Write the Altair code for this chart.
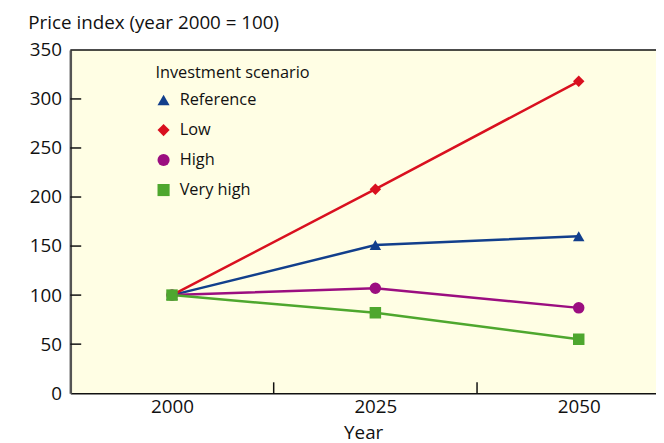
import altair as alt
import pandas as pd

years = [2000, 2025, 2050]
scenarios = ["Reference", "Low", "High", "Very high"]
reference = [100, 151, 160]
low = [100, 208, 318]
high = [100, 107, 87]
very_high = [100, 82, 55]
colors = ["#123f8c", "#d9101f", "#9b0e80", "#4ea72e"]
shapes = ["triangle-up", "diamond", "circle", "square"]
y_ticks = [0, 50, 100, 150, 200, 250, 300, 350]
x_minor = [2012.5, 2037.5]

rows = []
for name, vals in zip(scenarios, [reference, low, high, very_high]):
    for yr, v in zip(years, vals):
        rows.append({"Year": yr, "Value": v, "Scenario": name})
df = pd.DataFrame(rows)

W, H = 592, 347
FONT = "Open Sans"

xs = alt.Scale(domain=[1987.5, 2059.5], nice=False, zero=False)
ys = alt.Scale(domain=[0, 350], nice=False)

legend = alt.Legend(orient="none", legendX=86, legendY=15,
                    title="Investment scenario",
                    titleFontSize=16.5, titleFont=FONT,
                    titleFontWeight="normal", titleColor="#111",
                    titlePadding=11, labelFontSize=16.5,
                    labelFont=FONT, labelColor="#111",
                    rowPadding=13.3, symbolSize=150,
                    symbolStrokeWidth=0, labelOffset=8,
                    padding=0)

color = alt.Color("Scenario:N", scale=alt.Scale(domain=scenarios, range=colors),
                  legend=legend)
shape = alt.Shape("Scenario:N", scale=alt.Scale(domain=scenarios, range=shapes),
                  legend=legend)

base = alt.Chart(df)

lines = base.mark_line(strokeWidth=2.5).encode(
    x=alt.X("Year:Q", scale=xs,
            axis=alt.Axis(values=years, format="d", ticks=False, grid=False,
                          labelFontSize=19, labelFont=FONT, labelColor="#111",
                          labelPadding=5, domainColor="#111", domainWidth=1.5,
                          title="Year", titleFontSize=19, titleFont=FONT,
                          titleFontWeight="normal", titleColor="#111",
                          titlePadding=7)),
    y=alt.Y("Value:Q", scale=ys,
            axis=alt.Axis(values=y_ticks, ticks=False, grid=False,
                          labelFontSize=19, labelFont=FONT, labelColor="#111",
                          labelPadding=9, domainColor="#555", domainWidth=2.5,
                          title="Price index (year 2000 = 100)", titleAngle=0,
                          titleAlign="left", titleBaseline="middle",
                          titleX=-43, titleY=-28, titleFontSize=19,
                          titleFont=FONT, titleFontWeight="normal",
                          titleColor="#111")),
    color=color,
    detail="Scenario:N",
)

points = base.mark_point(filled=True, size=135, opacity=1).encode(
    x=alt.X("Year:Q", scale=xs),
    y=alt.Y("Value:Q", scale=ys),
    color=color,
    shape=shape,
)

ytick_df = pd.DataFrame({"v": y_ticks[1:-1]})
yticks = alt.Chart(ytick_df).mark_rule(color="#111", strokeWidth=1.5).encode(
    y=alt.Y("v:Q", scale=ys), x=alt.value(0), x2=alt.value(11))

xtick_df = pd.DataFrame({"v": x_minor})
xticks = alt.Chart(xtick_df).mark_rule(color="#111", strokeWidth=1.5).encode(
    x=alt.X("v:Q", scale=xs), y=alt.value(H), y2=alt.value(H - 11))

top_df = pd.DataFrame({"v": [350]})
top = alt.Chart(top_df).mark_rule(color="#111", strokeWidth=1.5).encode(
    y=alt.Y("v:Q", scale=ys), x=alt.value(0), x2=alt.value(W + 5))

chart = alt.layer(yticks, xticks, lines, points, top).properties(
    width=W, height=H,
    autosize=alt.AutoSizeParams(type="none"),
    padding={"left": 63, "top": 40, "right": 0, "bottom": 48},
).configure_view(fill="#fffee4", stroke=None)

chart.save("out.html", embed_options={"renderer": "svg", "actions": False})
